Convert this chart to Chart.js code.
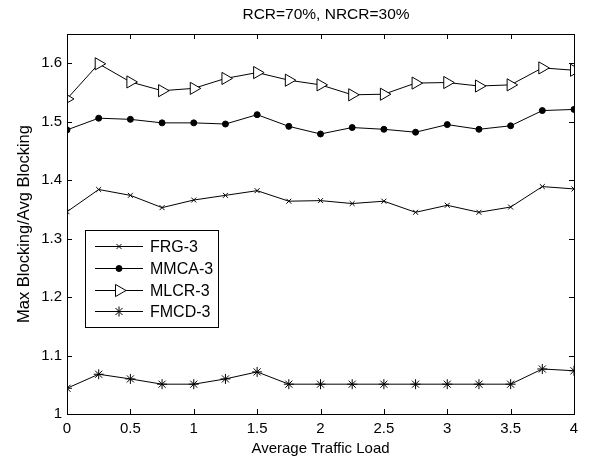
<!DOCTYPE html>
<html>
<head>
<meta charset="utf-8">
<script src="https://cdn.jsdelivr.net/npm/chart.js@4/dist/chart.umd.min.js"></script>
<style>
  html, body { margin: 0; padding: 0; background: #fff; }
  #wrap { width: 597px; height: 459px; }
</style>
</head>
<body>
<div id="wrap"><canvas id="grafico" width="597" height="459"></canvas></div>
<script>
// Dados
var cargas = [0, 0.25, 0.5, 0.75, 1, 1.25, 1.5, 1.75, 2, 2.25, 2.5, 2.75, 3, 3.25, 3.5, 3.75, 4];
var frg3  = [1.346, 1.384, 1.374, 1.353, 1.366, 1.374, 1.382, 1.364, 1.365, 1.360, 1.364, 1.345, 1.357, 1.345, 1.354, 1.389, 1.385];
var mmca3 = [1.486, 1.506, 1.504, 1.498, 1.498, 1.496, 1.512, 1.492, 1.479, 1.490, 1.487, 1.482, 1.495, 1.487, 1.493, 1.519, 1.521];
var mlcr3 = [1.539, 1.599, 1.568, 1.553, 1.557, 1.574, 1.584, 1.571, 1.563, 1.546, 1.547, 1.566, 1.567, 1.561, 1.563, 1.592, 1.588];
var fmcd3 = [1.044, 1.068, 1.060, 1.051, 1.051, 1.060, 1.072, 1.051, 1.051, 1.051, 1.051, 1.051, 1.051, 1.051, 1.051, 1.077, 1.074];
var xTicks = [0, 0.5, 1, 1.5, 2, 2.5, 3, 3.5, 4];
var yTicks = [1, 1.1, 1.2, 1.3, 1.4, 1.5, 1.6];

var fonte = 'Arial, "Liberation Sans", sans-serif';

function pontos(valores) {
    return valores.map(function (v, i) { return { x: cargas[i], y: v }; });
}

// Estilo de cada série (marcador estilo MATLAB)
var series = [
    { label: 'FRG-3',  data: frg3,  pointStyle: 'crossRot', radius: 3.5, rotation: 0,  fill: '#000' },
    { label: 'MMCA-3', data: mmca3, pointStyle: 'circle',   radius: 3,   rotation: 0,  fill: '#000' },
    { label: 'MLCR-3', data: mlcr3, pointStyle: 'triangle', radius: 7,   rotation: 90, fill: '#fff' },
    { label: 'FMCD-3', data: fmcd3, pointStyle: 'star',     radius: 5,   rotation: 0,  fill: '#000' }
];

// Plugin: caixa, marcas internas, título e legenda
var molduraPlugin = {
    id: 'moldura',
    afterDraw: function (chart) {
        var ctx = chart.ctx;
        var a = chart.chartArea;
        var sx = chart.scales.x, sy = chart.scales.y;
        ctx.save();
        ctx.strokeStyle = '#000';
        ctx.lineWidth = 1;
        ctx.strokeRect(Math.round(a.left) + 0.5, Math.round(a.top) + 0.5,
            Math.round(a.right - a.left), Math.round(a.bottom - a.top));
        ctx.beginPath();
        xTicks.forEach(function (t) {
            var x = Math.round(sx.getPixelForValue(t)) + 0.5;
            ctx.moveTo(x, a.bottom); ctx.lineTo(x, a.bottom - 5);
            ctx.moveTo(x, a.top); ctx.lineTo(x, a.top + 5);
        });
        yTicks.forEach(function (t) {
            var y = Math.round(sy.getPixelForValue(t)) + 0.5;
            ctx.moveTo(a.left, y); ctx.lineTo(a.left + 5, y);
            ctx.moveTo(a.right, y); ctx.lineTo(a.right - 5, y);
        });
        ctx.stroke();

        // Título
        ctx.fillStyle = '#000';
        ctx.font = '15.5px ' + fonte;
        ctx.textAlign = 'center';
        ctx.textBaseline = 'middle';
        ctx.fillText('RCR=70%, NRCR=30%', 326, 15);

        // Legenda
        ctx.fillStyle = '#fff';
        ctx.fillRect(85.5, 230.5, 133, 97);
        ctx.strokeRect(85.5, 230.5, 133, 97);
        ctx.font = '16px ' + fonte;
        var linhas = [246, 268, 290, 311];
        series.forEach(function (s, i) {
            var y = linhas[i] + 0.5;
            ctx.strokeStyle = '#000';
            ctx.lineWidth = 1;
            ctx.beginPath();
            ctx.moveTo(95, y); ctx.lineTo(143, y);
            ctx.stroke();
            ctx.fillStyle = s.fill;
            Chart.helpers.drawPoint(ctx, { pointStyle: s.pointStyle, radius: s.radius, rotation: s.rotation, borderWidth: 1 }, 119, y);
            ctx.fillStyle = '#000';
            ctx.textAlign = 'left';
            ctx.fillText(s.label, 150, y + 1);
        });
        ctx.restore();
    }
};

var ctxGrafico = document.getElementById('grafico').getContext('2d');
var grafico = new Chart(ctxGrafico, {
    type: 'line',
    data: {
        datasets: series.map(function (s) {
            return {
                label: s.label,
                data: pontos(s.data),
                borderColor: '#000',
                borderWidth: 1,
                backgroundColor: s.fill,
                pointStyle: s.pointStyle,
                pointRadius: s.radius,
                pointRotation: s.rotation,
                pointBorderColor: '#000',
                pointBackgroundColor: s.fill,
                pointBorderWidth: 1,
                tension: 0,
                fill: false
            };
        })
    },
    options: {
        responsive: false,
        animation: false,
        layout: { padding: { top: 34, right: 23, left: 0, bottom: 0 } },
        plugins: {
            legend: { display: false },
            title: { display: false },
            tooltip: { enabled: false }
        },
        scales: {
            x: {
                type: 'linear',
                min: 0,
                max: 4,
                afterFit: function (s) { s.height = 45; },
                afterBuildTicks: function (s) { s.ticks = xTicks.map(function (v) { return { value: v }; }); },
                grid: { display: false, drawTicks: false },
                border: { display: false },
                ticks: {
                    color: '#000',
                    font: { family: fonte, size: 15 },
                    padding: 6,
                    maxRotation: 0,
                    callback: function (v) { return String(+v.toFixed(2)); }
                },
                title: {
                    display: true,
                    text: 'Average Traffic Load',
                    color: '#000',
                    font: { family: fonte, size: 15 },
                    padding: { top: 0, bottom: 1 }
                }
            },
            y: {
                type: 'linear',
                min: 1,
                max: 1.65,
                afterFit: function (s) { s.width = 67; },
                afterBuildTicks: function (s) { s.ticks = yTicks.map(function (v) { return { value: v }; }); },
                grid: { display: false, drawTicks: false },
                border: { display: false },
                ticks: {
                    color: '#000',
                    font: { family: fonte, size: 15 },
                    padding: 5,
                    callback: function (v) { return String(+v.toFixed(2)); }
                },
                title: {
                    display: true,
                    text: 'Max Blocking/Avg Blocking',
                    color: '#000',
                    font: { family: fonte, size: 16.5 },
                    padding: { top: 15, bottom: 0 }
                }
            }
        }
    },
    plugins: [molduraPlugin]
});
</script>
</body>
</html>
